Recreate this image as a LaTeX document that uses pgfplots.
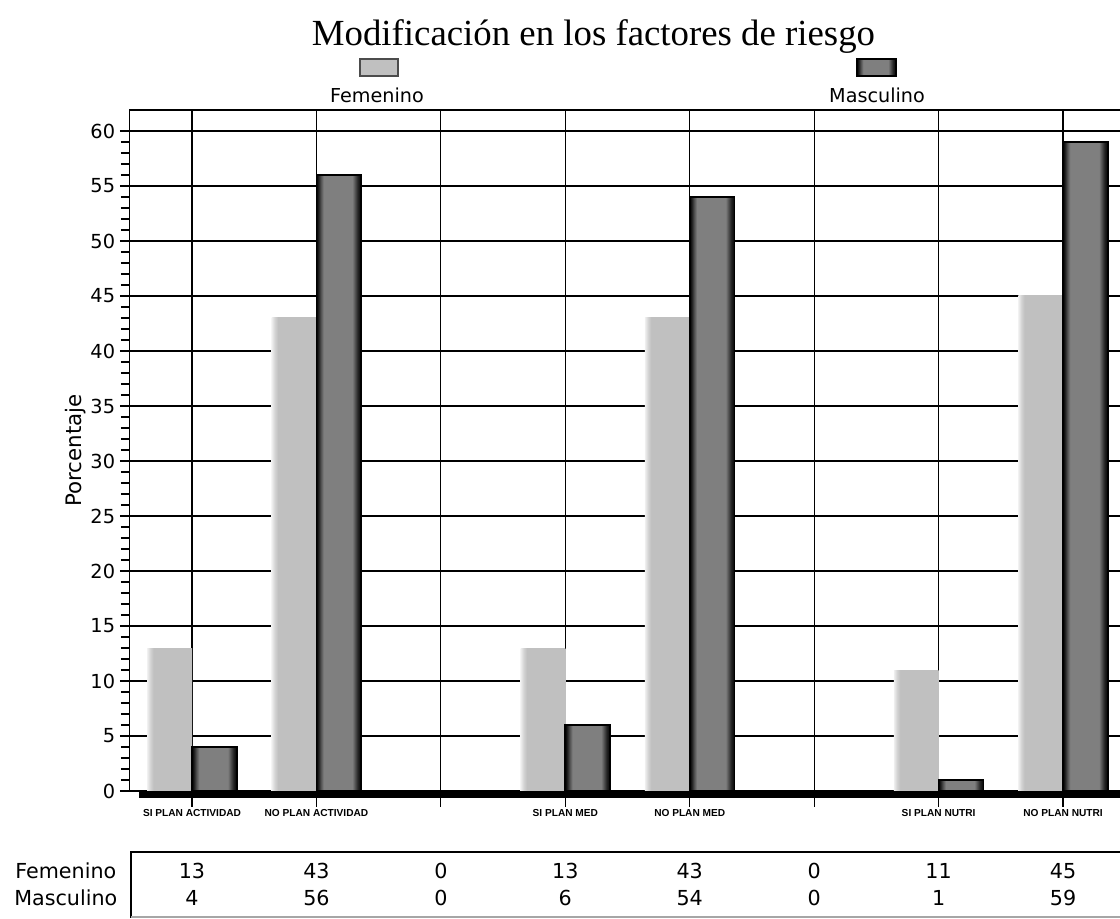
\documentclass[border=0pt]{standalone}
\usepackage{fontspec}
\setmainfont{DejaVu Sans}
\newfontfamily\titlefont{Liberation Serif}
\newfontfamily\catfont{Liberation Sans}
\usepackage{pgfplots}
\usepackage{pgfplotstable}
\pgfplotsset{compat=1.18}

\definecolor{fem}{HTML}{C0C0C0}
\definecolor{masc}{HTML}{7F7F7F}
\colorlet{mascedge}{black!70!masc}
\colorlet{mascmid}{black!35!masc}
\colorlet{femedge}{white!75!fem}
\colorlet{femmid}{white!30!fem}
\pgfdeclarehorizontalshading{mascshade}{100bp}{color(0bp)=(black); color(25bp)=(black); color(27.5bp)=(mascedge); color(30bp)=(mascmid); color(33bp)=(masc); color(65bp)=(masc); color(68bp)=(mascmid); color(71bp)=(mascedge); color(75bp)=(black); color(100bp)=(black)}
\pgfdeclarehorizontalshading{femshade}{100bp}{color(0bp)=(white); color(25bp)=(femedge); color(28.5bp)=(femmid); color(32bp)=(fem); color(75bp)=(fem); color(100bp)=(fem)}

\pgfplotstableread{
x fem masc
0 13 4
1 43 56
2 0 0
3 13 6
4 43 54
5 0 0
6 11 1
7 45 59
}\datatable

\begin{document}
\begin{tikzpicture}
\begin{axis}[
  at={(97.35pt,-593.25pt)}, anchor=south west,
  scale only axis, width=746.6pt, height=510.7pt,
  xmin=-0.5, xmax=7.5, ymin=0, ymax=61.9,
  axis line style={black, line width=0.9pt},
  xtick={0,...,7},
  xticklabels={SI PLAN ACTIVIDAD, NO PLAN ACTIVIDAD, {}, SI PLAN MED, NO PLAN MED, {}, SI PLAN NUTRI, NO PLAN NUTRI},
  xtick style={draw=none},
  xticklabel style={font=\catfont\bfseries\fontsize{7.6}{8}\selectfont, anchor=north, inner sep=0pt, yshift=-6pt},
  ytick={0,5,...,60},
  minor y tick num=4,
  tick align=outside,
  ytick pos=left,
  xtick pos=bottom,
  major tick length=7.5pt,
  minor tick length=6.75pt,
  ytick style={black, line width=0.8pt},
  yticklabel style={font=\fontsize{14.5}{16}\selectfont},
  /pgf/number format/assume math mode=true,
  xmajorgrids, ymajorgrids,
  grid style={black, line width=0.9pt},
  ylabel={Porcentaje},
  every axis y label/.style={at={([xshift=-41pt]axis description cs:0,0.5)}, rotate=90, anchor=center, font=\fontsize{16}{18}\selectfont},
  clip=false,
]
\pgfplotsinvokeforeach{0,1,3,4,6,7}{
\addplot[ybar, bar width=0.36, bar shift=-0.18, draw=none, shade, shading=femshade, restrict x to domain=#1:#1] table[x=x, y=fem] {\datatable};
\addplot[ybar, bar width=0.36, bar shift=0.18, draw=black, line width=1.3pt, shade, shading=mascshade, restrict x to domain=#1:#1] table[x=x, y=masc] {\datatable};
}
\fill[black] ([yshift=-5.25pt]axis cs:-0.426,0) rectangle (axis cs:7.5,0);
\pgfplotsinvokeforeach{0,...,7}{\draw[black, line width=0.9pt] (axis cs:#1,0) -- ([yshift=-12pt]axis cs:#1,0);}
\end{axis}
\begin{scope}[x=0.75pt, y=-0.75pt]
\node[anchor=base, font=\titlefont\fontsize{27.6}{30}\selectfont] at (593.5,45) {Modificación en los factores de riesgo};
\draw[fill=fem, draw=black!70, line width=0.8pt] (360,59) rectangle (398,76);
\draw[draw=black, line width=1.3pt, shade, shading=mascshade] (857,59) rectangle (896,76);
\node[anchor=base, font=\fontsize{14.4}{16}\selectfont] at (377,102) {Femenino};
\node[anchor=base, font=\fontsize{14.4}{16}\selectfont] at (877,102) {Masculino};
\draw[black, line width=0.9pt] (1125,852) -- (131,852) -- (131,918);
\draw[black!35, line width=0.9pt] (131,917) -- (1125,917);
\node[anchor=base east, font=\fontsize{15.5}{17}\selectfont] at (121,878) {Femenino};
\node[anchor=base east, font=\fontsize{15.5}{17}\selectfont] at (122,905) {Masculino};
\foreach \v [count=\i from 0] in {13,43,0,13,43,0,11,45} {\node[anchor=base, font=\fontsize{15.5}{17}\selectfont] at (192+124.43*\i,878) {\v};}
\foreach \v [count=\i from 0] in {4,56,0,6,54,0,1,59} {\node[anchor=base, font=\fontsize{15.5}{17}\selectfont] at (192+124.43*\i,905) {\v};}
\end{scope}
\pgfresetboundingbox
\useasboundingbox (0,0) rectangle (840pt,-688.5pt);
\end{tikzpicture}
\end{document}
